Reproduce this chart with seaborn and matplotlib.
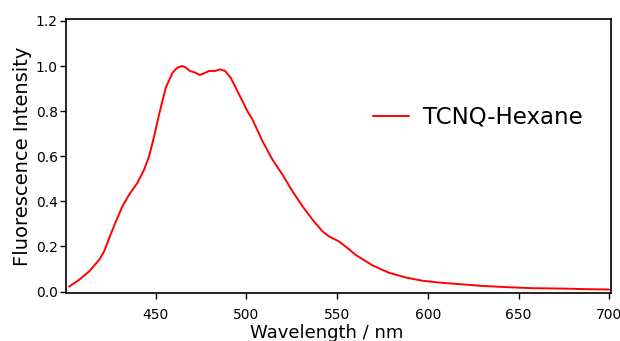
import pandas as pd
import matplotlib.pyplot as plt
import seaborn as sns

sns.set_theme(style='white')
plt.rcParams['font.family'] = ['DejaVu Sans']

# spectrum
wavelength = [402.2, 407.7, 413.2, 418.8, 421.5, 424.3, 428, 431.6, 435.3, 439.9, 443.6,
              446.3, 449.1, 451.8, 455.5, 459.2, 461.9, 464.7, 466.6, 468.8, 471.7, 474.3,
              476.7, 479.4, 482.7, 485.3, 488.2, 491.3, 495, 500.5, 503.3, 508.8, 514.3,
              519.8, 525.4, 530.9, 536.4, 541.9, 545.6, 551.1, 555.7, 560.3, 569.5, 578.7,
              588, 597, 606.3, 617.3, 630.2, 644.9, 657.7, 676.2, 685.3, 700]
intensity = [0.022, 0.052, 0.089, 0.141, 0.178, 0.237, 0.311, 0.378, 0.43, 0.482, 0.541,
             0.60, 0.689, 0.785, 0.904, 0.97, 0.993, 1.0, 0.993, 0.978, 0.971, 0.96,
             0.968, 0.978, 0.978, 0.985, 0.978, 0.948, 0.889, 0.80, 0.763, 0.667, 0.585,
             0.519, 0.444, 0.378, 0.319, 0.267, 0.244, 0.222, 0.193, 0.162, 0.116, 0.083,
             0.062, 0.048, 0.04, 0.033, 0.025, 0.019, 0.015, 0.013, 0.011, 0.009]
series_name = 'TCNQ-Hexane'

df = pd.DataFrame({'Wavelength': wavelength, 'Intensity': intensity})

fig = plt.figure(figsize=(6.2, 3.41), dpi=100)
ax = fig.add_axes([0.1065, 0.141, 0.879, 0.803])
sns.lineplot(x='Wavelength', y='Intensity', data=df, color='red', linewidth=1.4,
             label=series_name, ax=ax)

ax.set_xlim(400.5, 701)
ax.set_ylim(-0.006, 1.208)
ax.set_xticks([450, 500, 550, 600, 650, 700])
ax.set_yticks([0.0, 0.2, 0.4, 0.6, 0.8, 1.0, 1.2])
ax.set_yticklabels(['0.0', '0.2', '0.4', '0.6', '0.8', '1.0', '1.2'])
ax.tick_params(axis='both', direction='out', length=4, width=1, color='black',
               labelsize=10, labelcolor='black', bottom=True, left=True)
ax.tick_params(axis='x', pad=7)
ax.tick_params(axis='y', pad=2)
for s in ax.spines.values():
    s.set_color('black')
    s.set_linewidth(1.2)

ax.set_xlabel('Wavelength / nm', fontsize=13, color='black')
ax.xaxis.set_label_coords(0.479, -0.115)
ax.set_ylabel('Fluorescence Intensity', fontsize=14, color='black', labelpad=3)

ax.legend(loc='center left', bbox_to_anchor=(0.525, 0.642), frameon=False,
          fontsize=16.5, handlelength=1.6, handletextpad=0.6, labelcolor='black')

fig.savefig('out.png', dpi=100)
